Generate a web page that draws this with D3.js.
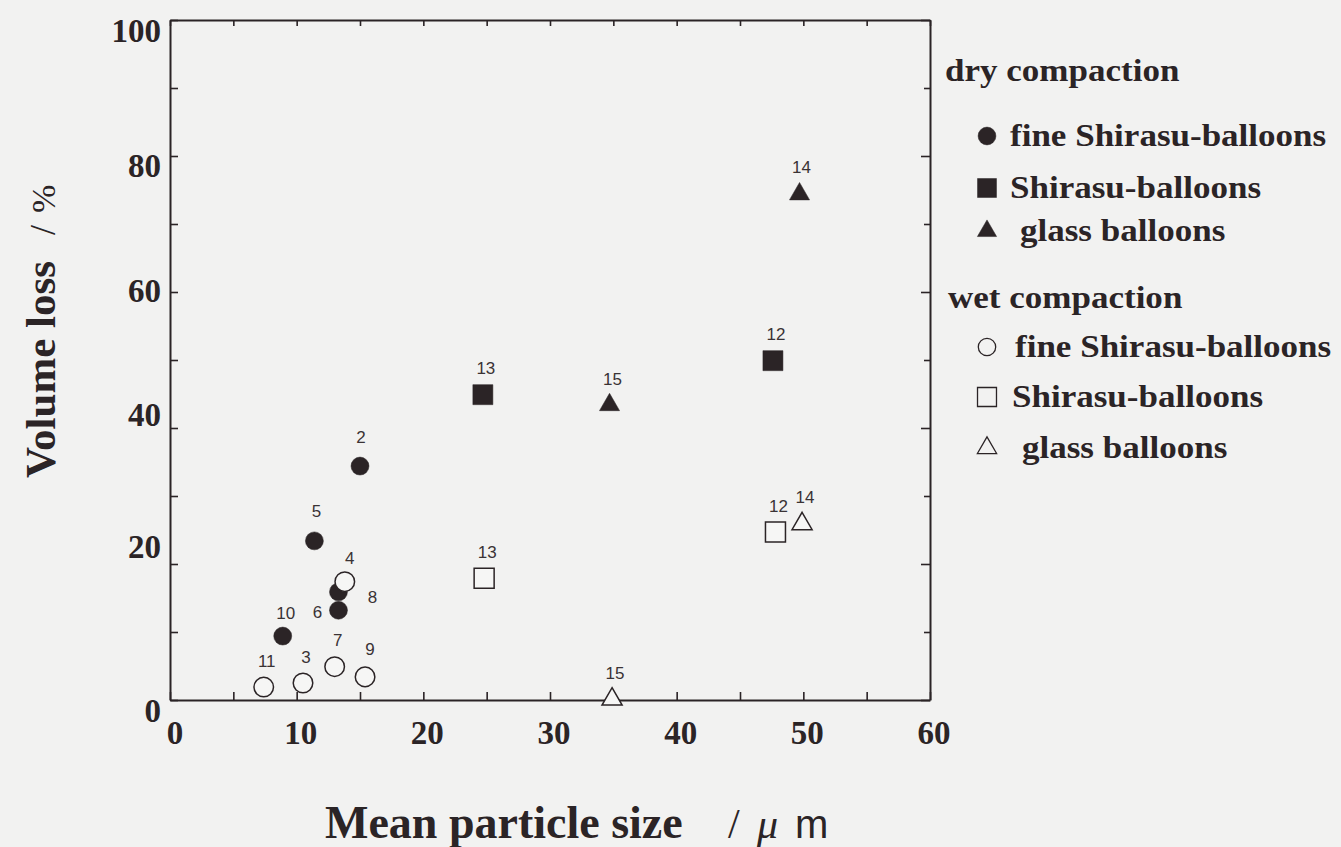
<!DOCTYPE html>
<html>
<head>
<meta charset="utf-8">
<script src="https://cdn.jsdelivr.net/npm/d3@7"></script>
<style>
  body { margin: 0; background: #f2f2f1; }
  svg { display: block; }
</style>
</head>
<body>
<svg id="chart" width="1341" height="847"></svg>
<script>
// ---- data ----------------------------------------------------------
const xTickValues = [0, 10, 20, 30, 40, 50, 60];
const yTickValues = [0, 20, 40, 60, 80, 100];

// dry compaction
const dryFineIds = ["2", "5", "8", "6", "10"];
const dryFineX   = [15.0, 11.4, 13.3, 13.3, 8.9];
const dryFineY   = [34.4, 23.4, 15.9, 13.2, 9.4];

const dryShirasuIds = ["13", "12"];
const dryShirasuX   = [24.7, 47.6];
const dryShirasuY   = [44.9, 49.9];

const dryGlassIds = ["14", "15"];
const dryGlassX   = [49.7, 34.7];
const dryGlassY   = [74.4, 43.4];

// wet compaction
const wetFineIds = ["4", "11", "3", "7", "9"];
const wetFineX   = [13.8, 7.4, 10.5, 13.0, 15.4];
const wetFineY   = [17.4, 1.9, 2.5, 4.9, 3.4];

const wetShirasuIds = ["13", "12"];
const wetShirasuX   = [24.8, 47.8];
const wetShirasuY   = [17.9, 24.7];

const wetGlassIds = ["14", "15"];
const wetGlassX   = [49.9, 34.9];
const wetGlassY   = [25.9, 0.1];

const legendGroups = ["dry compaction", "wet compaction"];
const legendLabels = ["fine Shirasu-balloons", "Shirasu-balloons", "glass balloons"];

// ---- layout --------------------------------------------------------
const ink = "#2b2426";
const serif = "'Liberation Serif', 'Times New Roman', serif";
const sans = "'Liberation Sans', Arial, sans-serif";
const plot = { left: 170, right: 930, top: 20, bottom: 700 };

const svg = d3.select("#chart");
svg.append("rect").attr("width", 1341).attr("height", 847).attr("fill", "#f2f2f1");

const x = d3.scaleLinear().domain([0, 60]).range([plot.left, plot.right]);
const y = d3.scaleLinear().domain([0, 100]).range([plot.bottom, plot.top]);

const shapes = {
  circle:   { type: d3.symbolCircle,   filled: 254, open: 300 },
  square:   { type: d3.symbolSquare,   filled: 400, open: 400 },
  triangle: { type: d3.symbolTriangle, filled: 175, open: 175 }
};

const series = [
  { ids: dryFineIds,    xs: dryFineX,    ys: dryFineY,    shape: "circle",   filled: true,  key: "dryFine" },
  { ids: dryShirasuIds, xs: dryShirasuX, ys: dryShirasuY, shape: "square",   filled: true,  key: "dryShirasu" },
  { ids: dryGlassIds,   xs: dryGlassX,   ys: dryGlassY,   shape: "triangle", filled: true,  key: "dryGlass" },
  { ids: wetFineIds,    xs: wetFineX,    ys: wetFineY,    shape: "circle",   filled: false, key: "wetFine" },
  { ids: wetShirasuIds, xs: wetShirasuX, ys: wetShirasuY, shape: "square",   filled: false, key: "wetShirasu" },
  { ids: wetGlassIds,   xs: wetGlassX,   ys: wetGlassY,   shape: "triangle", filled: false, key: "wetGlass" }
];

// label placement next to each marker (default: just above)
const labelDefault = [3, -26];
const labelNudge = {
  "dryFine-8": [34, 6],
  "dryFine-6": [-21, 2],
  "dryFine-2": [1, -29],
  "dryFine-5": [2, -29],
  "dryFine-10": [3, -23],
  "wetFine-4": [5, -23],
  "wetFine-9": [5, -27],
  "dryGlass-14": [2, -27],
  "dryGlass-15": [3, -25]
};

function symbolPath(shape, filled) {
  const s = shapes[shape];
  return d3.symbol().type(s.type).size(filled ? s.filled : s.open)();
}

// ---- frame and ticks -----------------------------------------------
const axes = svg.append("g").attr("class", "axes");

function styleAxis(g) {
  g.selectAll("path.domain").attr("stroke", ink).attr("stroke-width", 2);
  g.selectAll(".tick line").attr("stroke", ink).attr("stroke-width", 1.6);
  g.selectAll(".tick text").remove();
}

axes.append("g")
  .attr("transform", `translate(0,${plot.bottom})`)
  .call(d3.axisBottom(x).tickValues(d3.range(0, 61, 5)).tickSize(-8).tickSizeOuter(0).tickFormat(""))
  .call(styleAxis);

axes.append("g")
  .attr("transform", `translate(0,${plot.top})`)
  .call(d3.axisTop(x).tickValues(d3.range(0, 61, 5)).tickSize(-6).tickSizeOuter(0).tickFormat(""))
  .call(styleAxis);

axes.append("g")
  .attr("transform", `translate(${plot.left},0)`)
  .call(d3.axisLeft(y).tickValues(d3.range(0, 101, 10)).tickSize(-8).tickSizeOuter(0).tickFormat(""))
  .call(styleAxis);

const rightAxis = axes.append("g")
  .attr("transform", `translate(${plot.right},0)`)
  .call(d3.axisRight(y).tickValues(d3.range(0, 101, 10)).tickSize(-6).tickSizeOuter(0).tickFormat(""))
  .call(styleAxis);
rightAxis.selectAll(".tick line")
  .attr("x2", d => (d % 20 === 0 ? -9 : -6));

// ---- tick labels ---------------------------------------------------
const yLabelNudge = { 0: 11, 20: -17, 40: -13, 60: -1, 80: 10, 100: 11 };
svg.append("g").selectAll("text")
  .data(yTickValues)
  .join("text")
  .attr("x", plot.left - 9)
  .attr("y", d => y(d) + yLabelNudge[d])
  .attr("text-anchor", "end")
  .attr("dominant-baseline", "central")
  .attr("font-family", serif)
  .attr("font-weight", "bold")
  .attr("font-size", 33)
  .attr("fill", ink)
  .text(d => d);

svg.append("g").selectAll("text")
  .data(xTickValues)
  .join("text")
  .attr("x", d => x(d) + (d === 0 ? 5 : 4))
  .attr("y", 733)
  .attr("text-anchor", "middle")
  .attr("dominant-baseline", "central")
  .attr("font-family", serif)
  .attr("font-weight", "bold")
  .attr("font-size", 33)
  .attr("fill", ink)
  .text(d => d);

// ---- axis titles ---------------------------------------------------
const xTitle = svg.append("text")
  .attr("x", 325)
  .attr("y", 838)
  .attr("font-family", serif)
  .attr("font-size", 46)
  .attr("fill", ink);
xTitle.append("tspan").attr("font-weight", "bold").text("Mean particle size");
xTitle.append("tspan").attr("x", 728).attr("font-size", 42).text("/");
xTitle.append("tspan").attr("x", 757).attr("font-style", "italic").attr("font-size", 42).text("μ");
xTitle.append("tspan").attr("x", 795).attr("font-family", sans).attr("font-size", 40).text("m");

const yTitle = svg.append("text")
  .attr("transform", "translate(55,478) rotate(-90)")
  .attr("font-family", serif)
  .attr("font-size", 43)
  .attr("fill", ink);
yTitle.append("tspan").attr("font-weight", "bold").text("Volume loss");
yTitle.append("tspan").attr("dx", 26).attr("font-size", 36).text("/");
yTitle.append("tspan").attr("dx", 12).attr("font-size", 34).text("%");

// ---- data points ---------------------------------------------------
const points = svg.append("g").attr("class", "points");
series.forEach(s => {
  const rows = s.ids.map((id, i) => ({ id, vx: s.xs[i], vy: s.ys[i] }));
  const g = points.append("g");
  g.selectAll("path")
    .data(rows)
    .join("path")
    .attr("transform", d => `translate(${x(d.vx)},${y(d.vy)})`)
    .attr("d", symbolPath(s.shape, s.filled))
    .attr("fill", s.filled ? ink : "#f6f6f5")
    .attr("stroke", ink)
    .attr("stroke-width", s.filled ? 0.5 : 1.5);
  g.selectAll("text")
    .data(rows)
    .join("text")
    .attr("x", d => x(d.vx) + (labelNudge[`${s.key}-${d.id}`] || labelDefault)[0])
    .attr("y", d => y(d.vy) + (labelNudge[`${s.key}-${d.id}`] || labelDefault)[1])
    .attr("text-anchor", "middle")
    .attr("dominant-baseline", "central")
    .attr("font-family", sans)
    .attr("font-size", 17)
    .attr("fill", "#3a3335")
    .text(d => d.id);
});

// ---- legend --------------------------------------------------------
const legend = svg.append("g").attr("class", "legend");
const legendHeaderPos = [[945, 81], [948, 308]];
const legendRowY = [[136, 188, 231], [347, 397, 448]];
const legendMarkX = 987;
const legendTextX = [[1010, 1010, 1020], [1015, 1012, 1022]];
const legendShapes = ["circle", "square", "triangle"];
const legendSizes = { circle: 250, square: 360, triangle: 160 };

function stretchedText(parent, tx, ty, str, size) {
  parent.append("text")
    .attr("transform", `translate(${tx},${ty}) scale(1.13,1)`)
    .attr("font-family", serif)
    .attr("font-weight", "bold")
    .attr("font-size", size)
    .attr("fill", ink)
    .text(str);
}

legendGroups.forEach((grp, gi) => {
  const filled = gi === 0;
  stretchedText(legend, legendHeaderPos[gi][0], legendHeaderPos[gi][1], grp, 31);
  legendLabels.forEach((lab, li) => {
    const shape = legendShapes[li];
    const size = filled ? legendSizes[shape] : legendSizes[shape] * (shape === "circle" ? 0.95 : 1);
    legend.append("path")
      .attr("transform", `translate(${legendMarkX},${legendRowY[gi][li]})`)
      .attr("d", d3.symbol().type(shapes[shape].type).size(size)())
      .attr("fill", filled ? ink : "none")
      .attr("stroke", ink)
      .attr("stroke-width", filled ? 0.5 : 1.3);
    stretchedText(legend, legendTextX[gi][li], legendRowY[gi][li] + 10, lab, 31);
  });
});
</script>
</body>
</html>
